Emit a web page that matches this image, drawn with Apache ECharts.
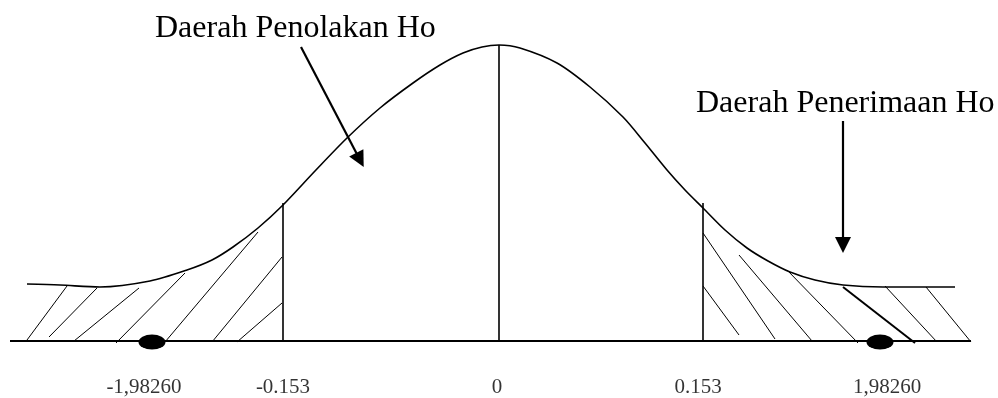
<!DOCTYPE html>
<html>
<head>
<meta charset="utf-8">
<script src="https://cdn.jsdelivr.net/npm/echarts@6/dist/echarts.min.js"></script>
<style>
  html, body { margin: 0; padding: 0; background: #fff; }
  #chart { width: 998px; height: 398px; }
</style>
</head>
<body>
<div id="chart"></div>
<script>
// drawing units: x along the axis, y = height above the baseline
const curve = [
  [27, 57], [60, 56], [100, 54], [150, 60], [187, 71], [212, 81], [233, 94],
  [258, 113], [283, 136], [315, 170], [347, 203], [380, 233], [413, 258],
  [440, 276], [463, 288], [482, 294], [499, 296], [520, 293], [557, 278],
  [590, 254], [623, 224], [645, 198], [667, 171], [685, 151], [703, 133],
  [725, 111], [747, 93], [768, 80], [790, 69], [815, 61], [843, 56],
  [883, 54], [920, 54], [955, 54]
];
const hatchLeft = [
  [[27, 1], [67, 55]], [[49, 4], [97, 53]], [[74, 0], [139, 53]],
  [[116, -2], [185, 68]], [[165, -1], [258, 109]], [[212, -1], [282, 84]],
  [[237, -1], [282, 38]]
];
const hatchRight = [
  [[703, 55], [739, 6]], [[703, 108], [775, 2]], [[739, 86], [812, 0]],
  [[787, 71], [858, -2]], [[885, 55], [937, -1]], [[926, 54], [971, -1]]
];
const hatchBold = [[[843, 54], [915, -2]]];
const dividers = [
  [[283, 0], [283, 138]], [[499, 0], [499, 296]], [[703, 0], [703, 138]]
];
const baseline = [[[10, 0], [971, 0]]];
const arrows = [[[301, 294], [360, 181]], [[843, 220], [843, 96]]];
const markers = [[152, -1], [880, -1]];
const tickLabels = ['-1,98260', '-0.153', '0', '0.153', '1,98260'];
const tickPos = [144, 283, 497, 698, 887];

const chart = echarts.init(document.getElementById('chart'));
const seg = (list) => list.map(c => ({ coords: c }));
const FONT = '"Liberation Serif", "Times New Roman", serif';

chart.setOption({
  animation: false,
  grid: { left: 0, right: 0, top: 0, bottom: 0 },
  xAxis: { type: 'value', min: 0, max: 998, show: false },
  yAxis: { type: 'value', min: -57, max: 341, show: false },
  graphic: [
    { type: 'text', left: 155, top: 13,
      style: { text: 'Daerah Penolakan Ho', font: '32px ' + FONT, fill: '#000' } },
    { type: 'text', left: 696, top: 88,
      style: { text: 'Daerah Penerimaan Ho', font: '32px ' + FONT, fill: '#000' } }
  ],
  series: [
    {
      type: 'line', data: curve, smooth: 0.3, symbol: 'none',
      lineStyle: { color: '#000', width: 1.6 }
    },
    {
      type: 'lines', coordinateSystem: 'cartesian2d', data: seg(baseline),
      lineStyle: { color: '#000', width: 2, opacity: 1 }
    },
    {
      type: 'lines', coordinateSystem: 'cartesian2d', data: seg(dividers),
      lineStyle: { color: '#000', width: 1.6, opacity: 1 }
    },
    {
      type: 'lines', coordinateSystem: 'cartesian2d',
      data: seg(hatchLeft.concat(hatchRight)),
      lineStyle: { color: '#000', width: 1, opacity: 1 }
    },
    {
      type: 'lines', coordinateSystem: 'cartesian2d', data: seg(hatchBold),
      lineStyle: { color: '#000', width: 2, opacity: 1 }
    },
    {
      type: 'lines', coordinateSystem: 'cartesian2d', data: seg(arrows),
      symbol: ['none', 'triangle'], symbolSize: [14, 16],
      lineStyle: { color: '#000', width: 2.2, opacity: 1 }
    },
    {
      type: 'scatter', data: markers, symbol: 'circle', symbolSize: [27, 15],
      itemStyle: { color: '#000', opacity: 1 }
    },
    {
      type: 'scatter', symbolSize: 0,
      data: tickPos.map((x, i) => ({ value: [x, -46], name: tickLabels[i] })),
      label: {
        show: true, position: 'inside', formatter: p => p.name,
        color: '#000', fontSize: 21, fontFamily: FONT
      }
    }
  ]
});
</script>
</body>
</html>
